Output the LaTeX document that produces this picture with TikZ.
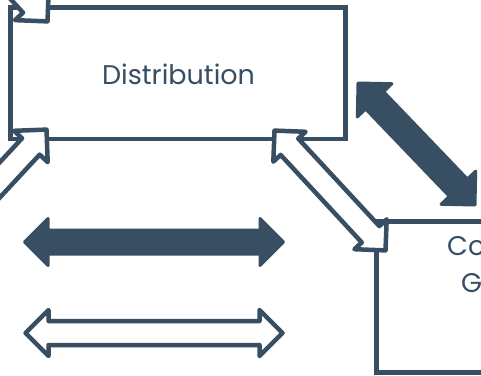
\documentclass[tikz,border=0pt]{standalone}
\usepackage{fontspec}
\setmainfont{Poppins}
\usetikzlibrary{calc}
\definecolor{slate}{HTML}{384E63}
\newcommand{\dblarr}[6]{% #1 style, #2 A, #3 B, #4 shaft half, #5 head half, #6 head length
  \coordinate (q1) at ($(#2)!#6!(#3)$);
  \coordinate (q2) at ($(#3)!#6!(#2)$);
  \draw[#1] (#2) -- ($(q1)!#5!90:(#3)$) -- ($(q1)!#4!90:(#3)$)
    -- ($(q2)!#4!-90:(#2)$) -- ($(q2)!#5!-90:(#2)$) -- (#3)
    -- ($(q2)!#5!90:(#2)$) -- ($(q2)!#4!90:(#2)$)
    -- ($(q1)!#4!-90:(#3)$) -- ($(q1)!#5!-90:(#3)$) -- cycle;}
\tikzset{
  filledarrow/.style={fill=slate, draw=slate, line width=3pt, line join=round},
  outlinearrow/.style={fill=white, draw=slate, line width=4.5pt, line join=round},
  boxnode/.style={draw=slate, line width=4.5pt, fill=white, inner sep=0pt},
  label/.style={text=slate, font=\fontsize{27}{31}\selectfont, inner sep=0pt}
}
\begin{document}
\begin{tikzpicture}[x=1pt,y=-1pt]
\useasboundingbox (0,0) rectangle (481,375);
\clip (0,0) rectangle (481,375);
% boxes
\node[boxnode, minimum width=335pt, minimum height=131.5pt] (dist) at (178,73.25) {};
\node[label] (disttext) at (178.5,74) {Distribution};
\node[boxnode, minimum width=250pt, minimum height=151pt, anchor=north west] (grp) at (374,219) {};
\node[label, anchor=base west] (grpa) at (447,255) {Co};
\node[label, anchor=base west] (grpb) at (461,292) {G};
% arrow end points
\coordinate (tlA) at (47.5,21.4);   \coordinate (tlB) at (-88.5,-125.6);
\coordinate (blA) at (46.5,129.6);  \coordinate (blB) at (-89.5,276);
\coordinate (dgA) at (274.5,130.6); \coordinate (dgB) at (385.5,250.4);
\coordinate (dfA) at (358,83);      \coordinate (dfB) at (475,205);
\coordinate (hfA) at (24.5,242);    \coordinate (hfB) at (283.5,242);
\coordinate (hoA) at (25.5,333);    \coordinate (hoB) at (282.5,333);
% arrows
\dblarr{outlinearrow}{tlA}{tlB}{12pt}{23pt}{23pt}
\dblarr{outlinearrow}{blA}{blB}{12pt}{23pt}{23pt}
\dblarr{outlinearrow}{dgA}{dgB}{12pt}{22pt}{22pt}
\dblarr{filledarrow}{dfA}{dfB}{12.5pt}{24pt}{24pt}
\dblarr{filledarrow}{hfA}{hfB}{12pt}{23.5pt}{23.5pt}
\dblarr{outlinearrow}{hoA}{hoB}{12pt}{23pt}{23pt}
\end{tikzpicture}
\end{document}
